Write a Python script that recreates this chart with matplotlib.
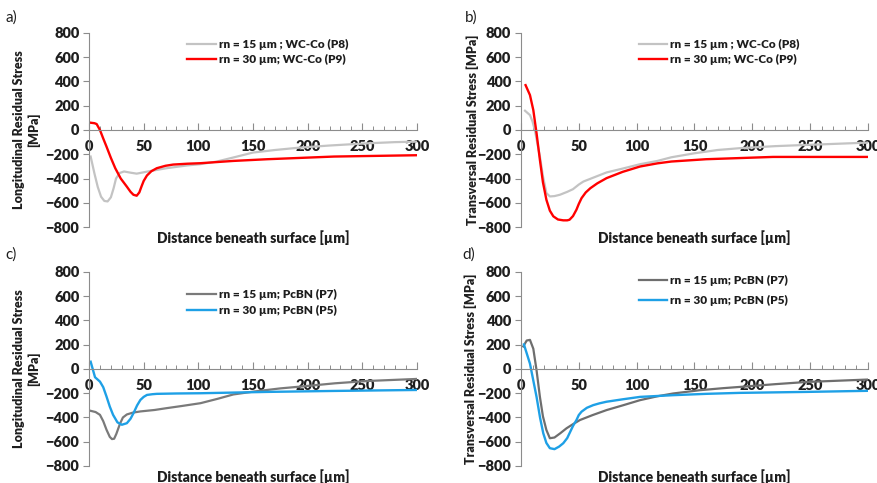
import matplotlib
matplotlib.use("Agg")
import matplotlib.pyplot as plt
from matplotlib.ticker import MultipleLocator

plt.rcParams['font.family'] = ['Lato', 'DejaVu Sans']

# a) longitudinal, WC-Co
a_x15 = [1.5, 5, 8, 11, 14, 17, 20, 22.5, 24.7, 28, 32, 38, 43.6, 55, 71, 90, 101.6, 117, 135, 150, 170, 193, 220, 254, 280, 300]
a_y15 = [-219, -360, -470, -550, -585, -589, -555, -480, -400, -355, -342, -352, -360, -340, -315, -292, -282, -260, -220, -186, -165, -145, -128, -110, -100, -96]
a_x30 = [1.5, 5, 7, 10, 13, 16, 20, 24, 29, 34.5, 38, 40.6, 43.6, 46, 48, 50, 53, 57, 62, 70, 77, 90, 101.6, 132, 163, 224, 300]
a_y30 = [60, 56, 49, 0, -70, -137, -230, -315, -400, -466, -510, -534, -542, -515, -466, -420, -375, -340, -315, -295, -285, -278, -274, -255, -241, -219, -208]

# b) transversal, WC-Co
b_x15 = [3.5, 7.8, 10, 12, 14, 16.4, 19, 22, 25, 29, 33.7, 40, 45, 50, 54, 62, 74, 88, 103, 118, 130, 150, 170, 189, 220, 247, 300]
b_y15 = [159, 123, 70, 0, -100, -219, -380, -520, -548, -545, -534, -510, -488, -450, -425, -395, -350, -318, -282, -255, -225, -192, -165, -150, -133, -123, -104]
b_x30 = [4, 7.8, 10.7, 13.5, 16.4, 19, 22, 25, 28, 32, 36.6, 40, 42, 45, 48, 50, 52.4, 56, 60, 66, 74, 88, 103, 118, 130, 160, 218, 300]
b_y30 = [370, 288, 164, -27, -247, -430, -575, -665, -712, -738, -745, -745, -740, -710, -657, -610, -562, -515, -480, -440, -397, -345, -301, -275, -260, -241, -222, -222]

# c) longitudinal, PcBN
c_x15 = [1.5, 6, 10, 13, 16, 19, 21, 23, 25, 28.4, 31, 34.6, 40, 47, 60, 71, 85, 102, 118, 132, 150.8, 175, 193.6, 225, 254.7, 300]
c_y15 = [-345, -355, -378, -430, -501, -560, -578, -575, -535, -450, -400, -375, -360, -350, -338, -323, -305, -282, -245, -210, -186, -160, -145, -118, -99, -82]
c_x30 = [1.5, 5.5, 10, 13, 16, 19, 22, 26, 30, 34.6, 38, 40.7, 44, 47, 50, 53, 58, 62, 80, 102, 163, 224, 300]
c_y30 = [60, -68, -104, -150, -227, -310, -378, -440, -460, -447, -410, -364, -300, -255, -230, -214, -208, -205, -202, -200, -189, -181, -173]

# d) transversal, PcBN
d_x15 = [2, 5, 7.8, 10.7, 13.5, 16.4, 19, 22, 25, 29, 34, 39.4, 45, 51, 62, 74, 88, 103, 118, 131.6, 154.6, 175, 189, 220, 247, 300]
d_y15 = [186, 235, 240, 167, -11, -230, -390, -503, -571, -565, -530, -489, -455, -421, -380, -339, -300, -257, -225, -202, -175, -158, -148, -125, -107, -87]
d_x30 = [2.6, 7.8, 13.5, 16.5, 19.3, 22, 25, 29, 33, 36.6, 40, 42, 45, 48, 50, 52.4, 57, 62.5, 68, 74, 88, 103, 131.6, 160, 189, 247, 300]
d_y30 = [202, 44, -230, -400, -530, -610, -653, -661, -640, -612, -570, -530, -470, -421, -380, -352, -320, -298, -283, -270, -250, -230, -216, -205, -197, -189, -180]

panels = [
    dict(tag="a)", ylabel="Longitudinal Residual Stress\n[MPa]",
         x1=a_x15, y1=a_y15, x2=a_x30, y2=a_y30,
         lab1="rn = 15 µm ; WC-Co (P8)", lab2="rn = 30 µm; WC-Co (P9)",
         c1="#c3c3c3", c2="#ff0000"),
    dict(tag="b)", ylabel="Transversal Residual Stress [MPa]",
         x1=b_x15, y1=b_y15, x2=b_x30, y2=b_y30,
         lab1="rn = 15 µm ; WC-Co (P8)", lab2="rn = 30 µm; WC-Co (P9)",
         c1="#c3c3c3", c2="#ff0000"),
    dict(tag="c)", ylabel="Longitudinal Residual Stress\n[MPa]",
         x1=c_x15, y1=c_y15, x2=c_x30, y2=c_y30,
         lab1="rn = 15 µm; PcBN (P7)", lab2="rn = 30 µm; PcBN (P5)",
         c1="#7a7a7a", c2="#1ea0e6"),
    dict(tag="d)", ylabel="Transversal Residual Stress [MPa]",
         x1=d_x15, y1=d_y15, x2=d_x30, y2=d_y30,
         lab1="rn = 15 µm; PcBN (P7)", lab2="rn = 30 µm; PcBN (P5)",
         c1="#6e6e6e", c2="#1ea0e6"),
]

# axes boxes in figure fraction
boxes = [
    [0.1015, 0.530, 0.374, 0.4017],
    [0.594, 0.530, 0.3957, 0.4017],
    [0.1015, 0.0352, 0.374, 0.4017],
    [0.594, 0.0352, 0.3957, 0.4017],
]
tag_pos = [(0.006, 0.955), (0.530, 0.955), (0.006, 0.465), (0.527, 0.465)]
ylab_x = [-0.19, -0.14, -0.19, -0.145]
leg_anchor = [(0.30, 0.97), (0.34, 0.97), (0.30, 0.91), (0.34, 0.985)]
leg_space = [0.35, 0.35, 0.35, 0.75]

fig = plt.figure(figsize=(8.77, 4.83), dpi=100)
axis_col = "#8c8c8c"
txt_col = "#1e1e1e"

for i, p in enumerate(panels):
    ax = fig.add_axes(boxes[i])
    ax.plot(p["x1"], p["y1"], color=p["c1"], lw=1.6, label=p["lab1"])
    ax.plot(p["x2"], p["y2"], color=p["c2"], lw=1.7, label=p["lab2"])
    ax.set_xlim(0, 300)
    ax.set_ylim(-800, 800)
    ax.spines["top"].set_visible(False)
    ax.spines["right"].set_visible(False)
    ax.spines["bottom"].set_position(("data", 0))
    ax.spines["bottom"].set_color(axis_col)
    ax.spines["left"].set_color(axis_col)
    ax.xaxis.set_major_locator(MultipleLocator(50))
    ax.xaxis.set_minor_locator(MultipleLocator(10))
    ax.yaxis.set_major_locator(MultipleLocator(200))
    ax.tick_params(axis="x", which="major", direction="in", length=5, width=0.8,
                   color=axis_col, pad=7, labelsize=10.5, labelcolor=txt_col)
    ax.tick_params(axis="x", which="minor", direction="in", length=3, width=0.7,
                   color=axis_col)
    ax.tick_params(axis="y", direction="out", length=4, width=0.8, color=axis_col,
                   labelsize=10.5, labelcolor=txt_col, pad=3)
    for lab in ax.get_xticklabels() + ax.get_yticklabels():
        lab.set_fontweight("heavy")
    ax.text(0.5, -0.055, "Distance beneath surface [µm]", transform=ax.transAxes,
            ha="center", va="center", fontsize=10, fontweight="heavy", color=txt_col)
    ax.text(ylab_x[i], 0.5, p["ylabel"], transform=ax.transAxes, rotation=90,
            ha="center", va="center", fontsize=9, fontweight="heavy", color=txt_col,
            linespacing=1.2)
    leg = ax.legend(loc="upper left", bbox_to_anchor=leg_anchor[i], frameon=False,
                    handlelength=2.4, handletextpad=0.25, labelspacing=leg_space[i],
                    borderaxespad=0, borderpad=0,
                    prop={"weight": "heavy", "size": 8.5})
    for t in leg.get_texts():
        t.set_color(txt_col)
    fig.text(tag_pos[i][0], tag_pos[i][1], p["tag"], fontsize=11, color=txt_col)

fig.savefig("out.png", dpi=100)
